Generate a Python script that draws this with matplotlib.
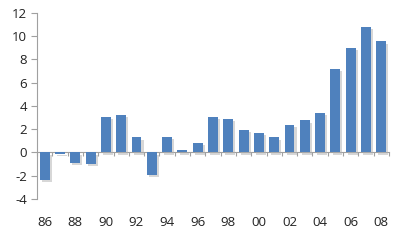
import matplotlib
matplotlib.use("Agg")
import matplotlib.pyplot as plt
import matplotlib.patheffects as pe
import numpy as np

years = ["86", "87", "88", "89", "90", "91", "92", "93", "94", "95", "96", "97",
         "98", "99", "00", "01", "02", "03", "04", "05", "06", "07", "08"]
values = [-2.35, -0.1, -0.9, -0.95, 3.03, 3.2, 1.29, -1.95, 1.35, 0.17, 0.8, 3.06,
          2.86, 1.91, 1.66, 1.29, 2.38, 2.75, 3.43, 7.15, 8.95, 10.76, 9.55]
yticks = [-4, -2, 0, 2, 4, 6, 8, 10, 12]

plt.rcParams['font.family'] = ['Open Sans', 'DejaVu Sans']
fig = plt.figure(figsize=(4, 2.4), dpi=100)
ax = fig.add_axes([0.0925, 0.171, 0.88, 0.775])

x = np.arange(len(years))
bars = ax.bar(x, values, width=0.65, color="#4F81BD", zorder=3)
for b in bars:
    b.set_path_effects([pe.SimplePatchShadow(offset=(1.5, -1.5), shadow_rgbFace="#b0b0b0", alpha=0.5), pe.Normal()])

ax.set_xlim(-0.5, len(years) - 0.5)
ax.set_ylim(-4, 12)
ax.set_yticks(yticks)
ax.set_yticklabels([str(v) for v in yticks], fontsize=9.5, color="#222222")
ax.tick_params(axis="y", length=4, color="#a0a0a0", width=0.8, pad=3)

for s in ["top", "right", "bottom"]:
    ax.spines[s].set_visible(False)
ax.spines["left"].set_color("#a0a0a0")
ax.spines["left"].set_linewidth(0.8)

lab_idx = list(range(0, len(years), 2))
ax.set_xticks(lab_idx)
ax.set_xticklabels([years[i] for i in lab_idx], fontsize=9.5, color="#222222")
ax.tick_params(axis="x", length=0, pad=12)

sec = ax.secondary_xaxis(0.25)
sec.set_xticks(np.arange(-0.5, len(years), 1.0))
sec.set_xticklabels([])
sec.tick_params(axis="x", length=3, color="#a0a0a0", width=0.8, direction="out")
sec.spines["bottom"].set_color("#a0a0a0")
sec.spines["bottom"].set_linewidth(0.8)

fig.savefig("out.png", dpi=100)
